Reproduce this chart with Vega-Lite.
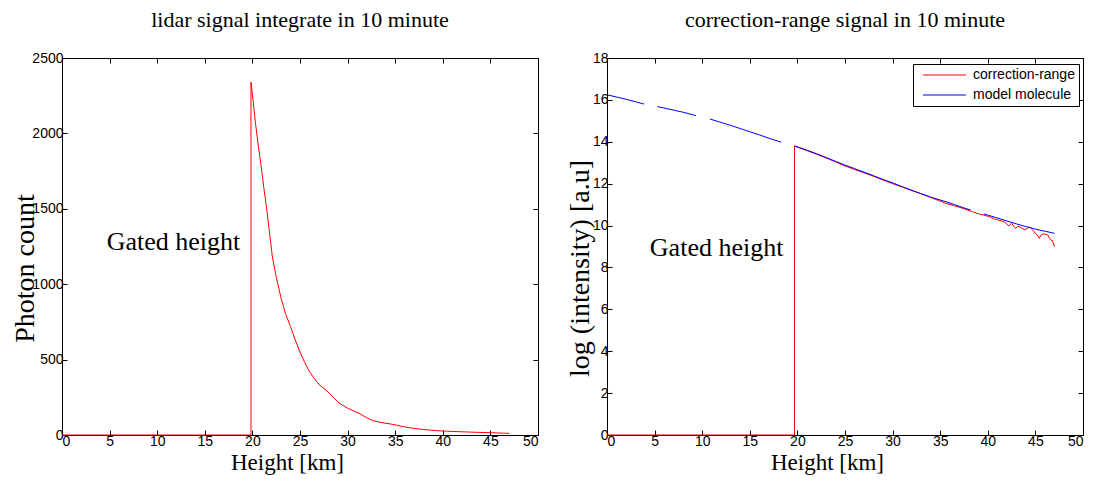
{
  "$schema": "https://vega.github.io/schema/vega-lite/v6.json",
  "background": "white",
  "padding": {"left": 10, "top": 8, "right": 0, "bottom": 0},
  "bounds": "flush",
  "spacing": 69,
  "resolve": {"scale": {"color": "independent"}, "legend": {"color": "independent"}},
  "datasets": {
    "left": [
      {"o": 0, "h": 0, "v": 0}, {"o": 1, "h": 19.85, "v": 0}, {"o": 2, "h": 19.85, "v": 2340},
      {"o": 3, "h": 20.0, "v": 2260}, {"o": 4, "h": 20.3, "v": 2080}, {"o": 5, "h": 20.6, "v": 1930},
      {"o": 6, "h": 20.9, "v": 1790}, {"o": 7, "h": 21.2, "v": 1640}, {"o": 8, "h": 21.5, "v": 1500},
      {"o": 9, "h": 21.8, "v": 1340}, {"o": 10, "h": 22.1, "v": 1180}, {"o": 11, "h": 22.5, "v": 1050},
      {"o": 12, "h": 23.0, "v": 910}, {"o": 13, "h": 23.5, "v": 800}, {"o": 14, "h": 24.0, "v": 720},
      {"o": 15, "h": 24.5, "v": 630}, {"o": 16, "h": 25.0, "v": 550}, {"o": 17, "h": 25.5, "v": 480},
      {"o": 18, "h": 26.0, "v": 420}, {"o": 19, "h": 26.5, "v": 375}, {"o": 20, "h": 27.0, "v": 335},
      {"o": 21, "h": 27.7, "v": 300}, {"o": 22, "h": 28.5, "v": 250}, {"o": 23, "h": 29.1, "v": 212},
      {"o": 24, "h": 30.0, "v": 178}, {"o": 25, "h": 31.2, "v": 144}, {"o": 26, "h": 32.0, "v": 115},
      {"o": 27, "h": 32.6, "v": 96}, {"o": 28, "h": 33.5, "v": 83}, {"o": 29, "h": 34.7, "v": 71},
      {"o": 30, "h": 35.8, "v": 56}, {"o": 31, "h": 36.8, "v": 45}, {"o": 32, "h": 38.0, "v": 36},
      {"o": 33, "h": 39.3, "v": 29}, {"o": 34, "h": 40.5, "v": 25}, {"o": 35, "h": 41.7, "v": 22},
      {"o": 36, "h": 43.5, "v": 18}, {"o": 37, "h": 45.2, "v": 15}, {"o": 38, "h": 46.3, "v": 12},
      {"o": 39, "h": 47.0, "v": 11}
    ],
    "red": [
      {"o": 0, "h": 0, "v": 0}, {"o": 1, "h": 19.7, "v": 0}, {"o": 2, "h": 19.7, "v": 13.8},
      {"o": 3, "h": 21, "v": 13.58}, {"o": 4, "h": 22, "v": 13.41}, {"o": 5, "h": 23, "v": 13.23},
      {"o": 6, "h": 24, "v": 13.04}, {"o": 7, "h": 24.8, "v": 12.88}, {"o": 8, "h": 26, "v": 12.68},
      {"o": 9, "h": 27, "v": 12.52}, {"o": 10, "h": 28, "v": 12.35}, {"o": 11, "h": 29, "v": 12.17},
      {"o": 12, "h": 30, "v": 12.0}, {"o": 13, "h": 31, "v": 11.84}, {"o": 14, "h": 32, "v": 11.67},
      {"o": 15, "h": 33, "v": 11.52}, {"o": 16, "h": 34, "v": 11.34}, {"o": 17, "h": 34.8, "v": 11.2},
      {"o": 18, "h": 35.6, "v": 11.06}, {"o": 19, "h": 36.5, "v": 10.94}, {"o": 20, "h": 37.2, "v": 10.85},
      {"o": 21, "h": 37.7, "v": 10.77}, {"o": 22, "h": 38.4, "v": 10.66}, {"o": 23, "h": 39.1, "v": 10.55},
      {"o": 24, "h": 39.6, "v": 10.5}, {"o": 25, "h": 40.0, "v": 10.44}, {"o": 26, "h": 40.4, "v": 10.38},
      {"o": 27, "h": 40.8, "v": 10.3}, {"o": 28, "h": 41.2, "v": 10.25}, {"o": 29, "h": 41.6, "v": 10.2},
      {"o": 30, "h": 41.9, "v": 10.12}, {"o": 31, "h": 42.2, "v": 9.98}, {"o": 32, "h": 42.5, "v": 10.11},
      {"o": 33, "h": 42.9, "v": 9.87}, {"o": 34, "h": 43.2, "v": 9.97}, {"o": 35, "h": 43.5, "v": 9.9},
      {"o": 36, "h": 43.9, "v": 9.79}, {"o": 37, "h": 44.2, "v": 9.88}, {"o": 38, "h": 44.4, "v": 9.93},
      {"o": 39, "h": 44.7, "v": 9.8}, {"o": 40, "h": 45.0, "v": 9.63}, {"o": 41, "h": 45.2, "v": 9.55},
      {"o": 42, "h": 45.4, "v": 9.39}, {"o": 43, "h": 45.6, "v": 9.55}, {"o": 44, "h": 45.8, "v": 9.6},
      {"o": 45, "h": 46.1, "v": 9.58}, {"o": 46, "h": 46.3, "v": 9.55}, {"o": 47, "h": 46.6, "v": 9.31},
      {"o": 48, "h": 46.8, "v": 9.28}, {"o": 49, "h": 47.0, "v": 8.99}
    ],
    "blue": [
      {"seg": 1, "h": 0, "v": 16.24}, {"seg": 1, "h": 1, "v": 16.14}, {"seg": 1, "h": 2, "v": 16.03},
      {"seg": 1, "h": 3, "v": 15.91}, {"seg": 1, "h": 3.9, "v": 15.8},
      {"seg": 2, "h": 5.3, "v": 15.68}, {"seg": 2, "h": 6.5, "v": 15.56}, {"seg": 2, "h": 8, "v": 15.41},
      {"seg": 2, "h": 9.35, "v": 15.25},
      {"seg": 3, "h": 10.8, "v": 15.09}, {"seg": 3, "h": 12, "v": 14.92}, {"seg": 3, "h": 13, "v": 14.78},
      {"seg": 3, "h": 14, "v": 14.63}, {"seg": 3, "h": 15, "v": 14.48}, {"seg": 3, "h": 16, "v": 14.33},
      {"seg": 3, "h": 17, "v": 14.17}, {"seg": 3, "h": 18.3, "v": 13.98},
      {"seg": 4, "h": 19.7, "v": 13.8}, {"seg": 4, "h": 21, "v": 13.6}, {"seg": 4, "h": 22, "v": 13.43},
      {"seg": 4, "h": 23, "v": 13.25}, {"seg": 4, "h": 24, "v": 13.07}, {"seg": 4, "h": 24.8, "v": 12.92},
      {"seg": 4, "h": 26, "v": 12.72}, {"seg": 4, "h": 27, "v": 12.55}, {"seg": 4, "h": 28, "v": 12.38},
      {"seg": 4, "h": 29, "v": 12.2}, {"seg": 4, "h": 30, "v": 12.04}, {"seg": 4, "h": 31, "v": 11.86},
      {"seg": 4, "h": 31.75, "v": 11.73}, {"seg": 4, "h": 33, "v": 11.52}, {"seg": 4, "h": 34, "v": 11.36},
      {"seg": 4, "h": 35, "v": 11.22}, {"seg": 4, "h": 35.6, "v": 11.14}, {"seg": 4, "h": 36.5, "v": 11.0},
      {"seg": 4, "h": 37.4, "v": 10.86}, {"seg": 4, "h": 38.2, "v": 10.74},
      {"seg": 5, "h": 39.6, "v": 10.55}, {"seg": 5, "h": 40.8, "v": 10.39}, {"seg": 5, "h": 42, "v": 10.22},
      {"seg": 5, "h": 43, "v": 10.08}, {"seg": 5, "h": 44, "v": 9.95}, {"seg": 5, "h": 45, "v": 9.83},
      {"seg": 5, "h": 46, "v": 9.73}, {"seg": 5, "h": 47, "v": 9.63}
    ],
    "noteLeft": [{"h": 4.7, "v": 1227, "t": "Gated height"}],
    "noteRight": [{"h": 4.5, "v": 8.55, "t": "Gated height"}]
  },
  "hconcat": [
    {
      "width": 476,
      "height": 377,
      "title": {"text": "lidar signal integrate in 10 minute", "offset": 19},
      "layer": [
        {
          "data": {"name": "left"},
          "mark": {"type": "line", "color": "#ff0000", "strokeWidth": 1},
          "encoding": {
            "x": {"field": "h", "type": "quantitative", "scale": {"domain": [0, 50], "nice": false},
                  "axis": {"orient": "bottom", "title": "Height [km]", "values": [0,5,10,15,20,25,30,35,40,45,50], "titleX": 225}},
            "y": {"field": "v", "type": "quantitative", "scale": {"domain": [0, 2500], "nice": false},
                  "axis": {"orient": "left", "title": "Photon count", "format": "d", "values": [0,500,1000,1500,2000,2500], "titleFontSize": 28, "titleX": -29, "titleY": 210, "titleBaseline": "alphabetic"}},
            "order": {"field": "o", "type": "quantitative"}
          }
        },
        {
          "data": {"name": "left"},
          "mark": {"type": "line", "opacity": 0},
          "encoding": {
            "x": {"field": "h", "type": "quantitative", "axis": {"orient": "top", "labels": false, "title": null, "values": [0,5,10,15,20,25,30,35,40,45,50]}},
            "y": {"field": "v", "type": "quantitative", "axis": {"orient": "right", "labels": false, "title": null, "values": [0,500,1000,1500,2000,2500]}},
            "order": {"field": "o", "type": "quantitative"}
          }
        },
        {
          "data": {"name": "noteLeft"},
          "mark": {"type": "text", "align": "left", "baseline": "alphabetic", "font": "Liberation Serif", "fontSize": 26, "color": "black"},
          "encoding": {
            "x": {"field": "h", "type": "quantitative", "axis": null},
            "y": {"field": "v", "type": "quantitative", "axis": null},
            "text": {"field": "t"}
          }
        }
      ],
      "resolve": {"axis": {"x": "independent", "y": "independent"}}
    },
    {
      "width": 476,
      "height": 377,
      "title": {"text": "correction-range signal in 10 minute", "offset": 19},
      "layer": [
        {
          "data": {"name": "red"},
          "mark": {"type": "line", "strokeWidth": 1},
          "encoding": {
            "x": {"field": "h", "type": "quantitative", "scale": {"domain": [0, 50], "nice": false},
                  "axis": {"orient": "bottom", "title": "Height [km]", "values": [0,5,10,15,20,25,30,35,40,45,50], "titleX": 220}},
            "y": {"field": "v", "type": "quantitative", "scale": {"domain": [0, 18], "nice": false},
                  "axis": {"orient": "left", "title": "log (intensity) [a.u]", "values": [0,2,4,6,8,10,12,14,16,18], "titleFontSize": 28, "titleX": -19, "titleY": 210, "titleBaseline": "alphabetic"}},
            "order": {"field": "o", "type": "quantitative"},
            "color": {"datum": "correction-range", "type": "nominal",
                      "scale": {"domain": ["correction-range", "model molecule"], "range": ["#ff0000", "#0000ff"]},
                      "legend": {"title": null, "orient": "none", "legendX": 306, "legendY": 6}}
          }
        },
        {
          "data": {"name": "blue"},
          "mark": {"type": "line", "strokeWidth": 1},
          "encoding": {
            "x": {"field": "h", "type": "quantitative", "axis": null},
            "y": {"field": "v", "type": "quantitative", "axis": null},
            "detail": {"field": "seg", "type": "nominal"},
            "color": {"datum": "model molecule", "type": "nominal"}
          }
        },
        {
          "data": {"name": "blue"},
          "mark": {"type": "line", "opacity": 0},
          "encoding": {
            "x": {"field": "h", "type": "quantitative", "axis": {"orient": "top", "labels": false, "title": null, "values": [0,5,10,15,20,25,30,35,40,45,50]}},
            "y": {"field": "v", "type": "quantitative", "axis": {"orient": "right", "labels": false, "title": null, "values": [0,2,4,6,8,10,12,14,16,18]}},
            "detail": {"field": "seg", "type": "nominal"}
          }
        },
        {
          "data": {"name": "noteRight"},
          "mark": {"type": "text", "align": "left", "baseline": "alphabetic", "font": "Liberation Serif", "fontSize": 26, "color": "black"},
          "encoding": {
            "x": {"field": "h", "type": "quantitative", "axis": null},
            "y": {"field": "v", "type": "quantitative", "axis": null},
            "text": {"field": "t"}
          }
        }
      ],
      "resolve": {"axis": {"x": "independent", "y": "independent"}}
    }
  ],
  "config": {
    "view": {"stroke": "black", "strokeWidth": 1},
    "axis": {
      "grid": false, "domain": true, "domainColor": "black", "domainWidth": 1,
      "ticks": true, "tickColor": "black", "tickSize": -5, "tickWidth": 1,
      "labelFont": "Liberation Sans", "labelFontSize": 14, "labelColor": "black", "labelPadding": 4,
      "titleFont": "Liberation Serif", "titleFontWeight": "normal", "titleColor": "black", "titleFontSize": 23, "titlePadding": 3
    },
    "title": {"font": "Liberation Serif", "fontSize": 22, "fontWeight": "normal", "color": "black", "anchor": "middle"},
    "legend": {
      "strokeColor": "black", "fillColor": "white", "padding": 4, "cornerRadius": 0,
      "symbolType": "M-0.17,0H7", "symbolSize": 144, "symbolStrokeWidth": 1,
      "labelFont": "Liberation Sans", "labelFontSize": 14, "labelColor": "black", "labelOffset": 42, "rowPadding": 6
    }
  }
}
